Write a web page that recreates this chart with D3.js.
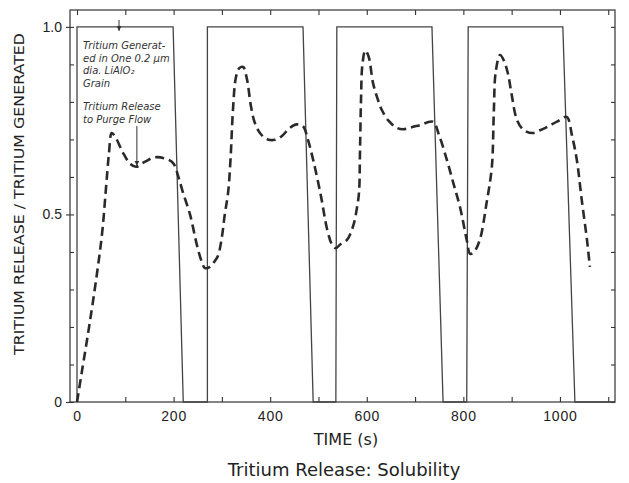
<!DOCTYPE html>
<html>
<head>
<meta charset="utf-8">
<script src="https://cdn.jsdelivr.net/npm/d3@7"></script>
<style>
  body { margin: 0; background: #fff; }
  svg { display: block; font-family: "DejaVu Sans", sans-serif; }
</style>
</head>
<body>
<svg id="chart"></svg>
<script>
// tritium release / generated (dashed curve)
const relTime = [0, 10, 25, 40, 52, 60, 66, 72, 80, 95, 110, 122, 140, 160, 180, 199, 210, 219, 234, 248, 258, 265, 275, 285, 292, 300, 306, 313, 318, 323, 329, 336, 344, 352, 360, 368, 380, 395, 410, 425, 440, 455, 468, 478, 490, 505, 518, 528, 536, 545, 559, 572, 580, 584, 586, 588, 591, 597, 604, 613, 622, 631, 645, 662, 675, 689, 710, 737, 750, 766, 780, 793, 807, 814, 822, 834, 848, 859, 863, 867, 876, 884, 892, 900, 911, 925, 944, 960, 973, 995, 1014, 1025, 1035, 1045, 1056, 1062];
const relValue = [0, 0.08, 0.2, 0.33, 0.45, 0.57, 0.66, 0.717, 0.705, 0.665, 0.635, 0.627, 0.64, 0.652, 0.65, 0.637, 0.6, 0.56, 0.5, 0.42, 0.375, 0.357, 0.36, 0.375, 0.39, 0.44, 0.5, 0.56, 0.65, 0.78, 0.865, 0.89, 0.893, 0.86, 0.79, 0.745, 0.715, 0.70, 0.699, 0.71, 0.73, 0.74, 0.735, 0.7, 0.64, 0.55, 0.46, 0.42, 0.41, 0.42, 0.432, 0.47, 0.52, 0.56, 0.67, 0.8, 0.9, 0.937, 0.92, 0.85, 0.81, 0.779, 0.75, 0.731, 0.727, 0.731, 0.738, 0.747, 0.71, 0.645, 0.58, 0.52, 0.432, 0.395, 0.40, 0.432, 0.53, 0.627, 0.77, 0.88, 0.925, 0.91, 0.877, 0.82, 0.752, 0.725, 0.717, 0.725, 0.733, 0.748, 0.76, 0.71, 0.645, 0.54, 0.432, 0.36];

// tritium generated (square wave)
const genTime = [0, 0, 199, 220, 270, 270, 468, 489, 536, 538, 735, 758, 807, 810, 1006, 1031, 1114];
const genValue = [0, 1, 1, 0, 0, 1, 1, 0, 0, 1, 1, 0, 0, 1, 1, 0, 0];

const xTickValues = [0, 200, 400, 600, 800, 1000];
const xMinorTicks = d3.range(0, 1101, 100);
const yTickValues = [0, 0.5, 1.0];
const yTickLabels = ["0", "0.5", "1.0"];
const yMinorTicks = d3.range(0, 1.01, 0.1);

const noteLines = ["Tritium Generat-", "ed in One 0.2 \u03bcm", "dia. LiAlO\u2082", "Grain"];
const noteLines2 = ["Tritium Release", "to Purge Flow"];

const width = 629, height = 483;
const margin = { top: 10, right: 14, bottom: 81, left: 70 };
const svg = d3.select("#chart").attr("width", width).attr("height", height);

const x = d3.scaleLinear().domain([-14.5, 1114]).range([margin.left, width - margin.right]);
const y = d3.scaleLinear().domain([0, 1.045]).range([height - margin.bottom, margin.top]);
const ink = "#333";

// frame
svg.append("rect")
  .attr("x", x.range()[0]).attr("y", y.range()[1])
  .attr("width", x.range()[1] - x.range()[0])
  .attr("height", y.range()[0] - y.range()[1])
  .attr("fill", "none").attr("stroke", ink).attr("stroke-width", 1.2);

function styleAxis(g) {
  g.select(".domain").remove();
  g.selectAll("line").attr("stroke", ink).attr("stroke-width", 1.1);
  g.selectAll("text").attr("fill", "#222");
}

// bottom ticks + labels
svg.append("g").attr("transform", `translate(0,${y(0)})`)
  .call(d3.axisBottom(x).tickValues(xMinorTicks).tickSize(-5)
    .tickFormat(d => xTickValues.includes(d) ? d : "").tickPadding(9))
  .call(styleAxis)
  .call(g => g.selectAll("text").attr("font-size", 14).attr("letter-spacing", 0.8));

// top ticks
svg.append("g").attr("transform", `translate(0,${y.range()[1]})`)
  .call(d3.axisTop(x).tickValues(xMinorTicks).tickSize(-5).tickFormat(""))
  .call(styleAxis);

// left labels
svg.append("g").attr("transform", `translate(${x.range()[0]},0)`)
  .call(d3.axisLeft(y).tickValues(yTickValues).tickSize(4).tickPadding(4)
    .tickFormat((d, i) => yTickLabels[i]))
  .call(styleAxis)
  .call(g => g.selectAll("text").attr("font-size", 14));

// left/right minor ticks
svg.append("g").attr("transform", `translate(${x.range()[0]},0)`)
  .call(d3.axisLeft(y).tickValues(yMinorTicks).tickSize(-4).tickFormat(""))
  .call(styleAxis);
svg.append("g").attr("transform", `translate(${x.range()[1]},0)`)
  .call(d3.axisRight(y).tickValues(yMinorTicks).tickSize(-4).tickFormat(""))
  .call(styleAxis);

// square wave
const genData = genTime.map((t, i) => [t, genValue[i]]);
svg.append("path").datum(genData)
  .attr("d", d3.line().x(d => x(d[0])).y(d => y(d[1])))
  .attr("fill", "none").attr("stroke", "#444").attr("stroke-width", 1.3);

// release curve
const relData = relTime.map((t, i) => [t, relValue[i]]);
svg.append("path").datum(relData)
  .attr("d", d3.line().curve(d3.curveCatmullRom.alpha(0.5)).x(d => x(d[0])).y(d => y(d[1])))
  .attr("fill", "none").attr("stroke", "#2a2a2a").attr("stroke-width", 2.6)
  .attr("stroke-dasharray", "9,5");

// annotations
const note = svg.append("g").attr("font-size", 10).attr("fill", "#333").attr("font-style", "italic");
note.selectAll("text.n1").data(noteLines).join("text")
  .attr("x", 83).attr("y", (d, i) => 49 + i * 12.5).text(d => d);
note.selectAll("text.n2").data(noteLines2).join("text")
  .attr("x", 83).attr("y", (d, i) => 110 + i * 12.5).text(d => d);

svg.append("defs").append("marker")
  .attr("id", "arr").attr("viewBox", "0 0 10 10").attr("refX", 10).attr("refY", 5)
  .attr("markerWidth", 5).attr("markerHeight", 5).attr("orient", "auto")
  .append("path").attr("d", "M0,0L10,5L0,10z").attr("fill", ink);

svg.append("line")
  .attr("x1", x(87)).attr("x2", x(87)).attr("y1", y(1.045) + 10).attr("y2", y(1) + 4)
  .attr("stroke", ink).attr("stroke-width", 1).attr("marker-end", "url(#arr)");
svg.append("line")
  .attr("x1", x(124)).attr("x2", x(124)).attr("y1", 126).attr("y2", y(0.627) - 1)
  .attr("stroke", ink).attr("stroke-width", 1).attr("marker-end", "url(#arr)");

// axis titles
svg.append("text")
  .attr("transform", `translate(20,${(355 + 33) / 2}) rotate(-90)`)
  .attr("text-anchor", "middle").attr("dominant-baseline", "middle")
  .attr("font-size", 14).attr("fill", "#222")
  .attr("textLength", 322).attr("lengthAdjust", "spacingAndGlyphs")
  .text("TRITIUM RELEASE / TRITIUM GENERATED");

svg.append("text")
  .attr("x", 346).attr("y", 445).attr("text-anchor", "middle")
  .attr("font-size", 16).attr("fill", "#222")
  .text("TIME (s)");

svg.append("text")
  .attr("x", 344).attr("y", 476).attr("text-anchor", "middle")
  .attr("font-size", 18).attr("fill", "#222")
  .text("Tritium Release:  Solubility");
</script>
</body>
</html>
